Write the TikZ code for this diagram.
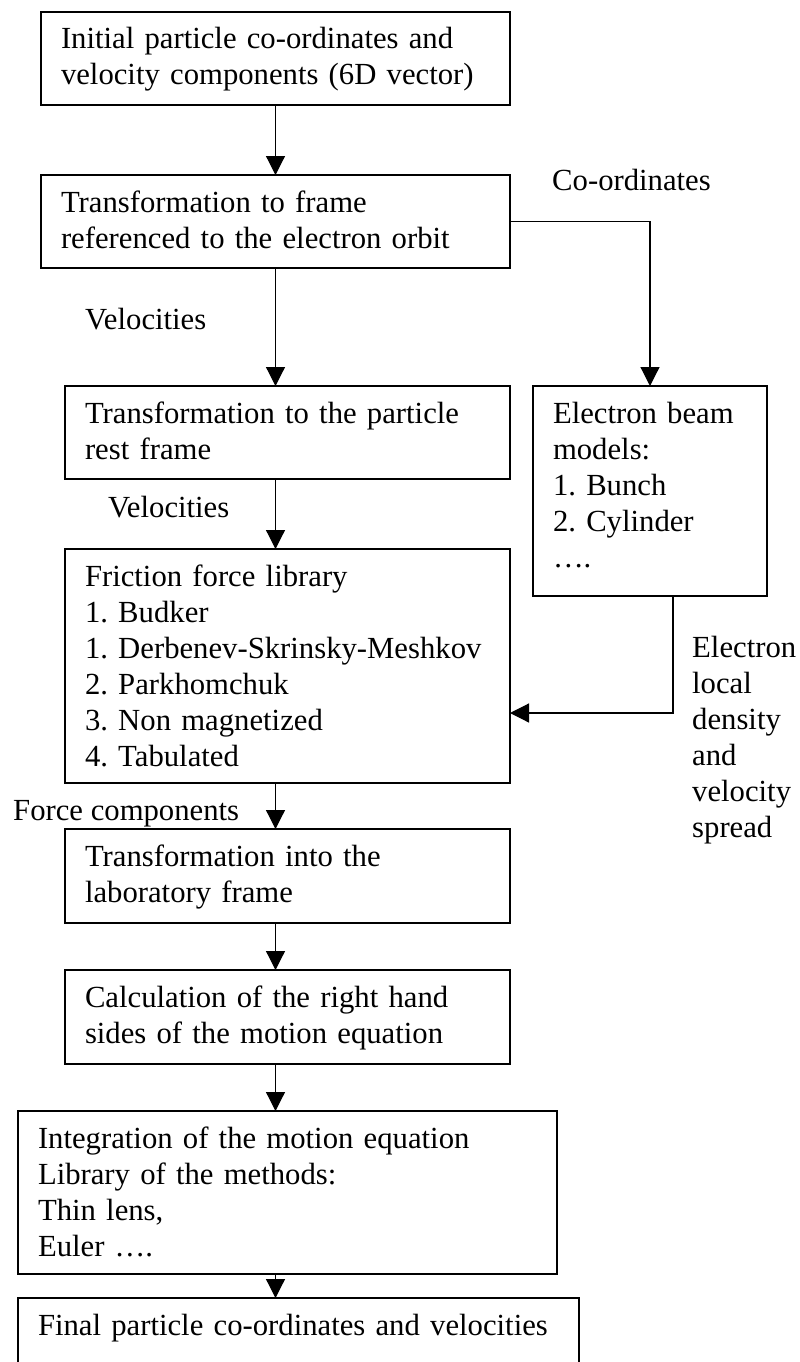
\documentclass[tikz,border=0pt]{standalone}
\usepackage{fontspec}
\setmainfont{Liberation Serif}
\usetikzlibrary{arrows.meta}
\frenchspacing
\hyphenpenalty=10000
\exhyphenpenalty=10000
\tikzset{
  box/.style={draw, line width=1.2pt, anchor=north west, align=left,
    inner xsep=20pt, inner ysep=0pt, outer sep=0pt, text height=37pt,
    font=\fontsize{30.7}{36}\selectfont},
  lbl/.style={anchor=base west, align=left, inner sep=0pt,
    font=\fontsize{30.7}{36}\selectfont},
  arr/.style={line width=1.2pt, -{Triangle[length=19pt,width=19pt]}},
  ln/.style={line width=1.2pt}
}
\begin{document}
\frenchspacing
\begin{tikzpicture}[x=1pt,y=-1pt]
\clip (0,0) rectangle (800,1362);
\fill[white] (0,0) rectangle (800,1362);
\node[box, text width=429pt, text depth=56pt] (b1) at (41,12)
  {Initial particle co-ordinates and\\velocity components (6D vector)};
\node[box, text width=429pt, text depth=56pt] (b2) at (41,175)
  {Transformation to frame\\referenced to the electron orbit};
\node[box, text width=405pt, text depth=56pt] (b3) at (65,386)
  {Transformation to the particle\\rest frame};
\node[box, text width=194pt, text depth=173pt] (b4) at (533,386)
  {Electron beam\\models:\\1. Bunch\\2. Cylinder\\….};
\node[box, text width=405pt, text depth=197pt] (b5) at (65,549)
  {Friction force library\\1. Budker\\1. Derbenev-Skrinsky-Meshkov\\2. Parkhomchuk\\3. Non magnetized\\4. Tabulated};
\node[box, text width=405pt, text depth=57pt] (b6) at (65,829)
  {Transformation into the\\laboratory frame};
\node[box, text width=405pt, text depth=57pt] (b7) at (65,970)
  {Calculation of the right hand\\sides of the motion equation};
\node[box, text width=499pt, text depth=126pt] (b8) at (18,1111)
  {Integration of the motion equation\\Library of the methods:\\Thin lens,\\Euler ….};
\node[box, text width=521pt, text depth=80pt] (b9) at (18,1298)
  {Final particle co-ordinates and velocities};

\node[lbl] (lco) at (552,190) {Co-ordinates};
\node[lbl] (lv1) at (85,329) {Velocities};
\node[lbl] (lv2) at (108,517) {Velocities};
\node[lbl] (lfc) at (13,820) {Force components};
\node[lbl, text width=110pt] (lel) at (692,657)
  {Electron\\local\\density\\and\\velocity\\spread};

\draw[arr] (b1.south) -- (b2.north);
\draw[arr] (b2.south) -- (b2.south |- b3.north);
\draw[arr] (b2.east) -| (b4.north);
\draw[arr] (b3.south -| b2.south) -- (b2.south |- b5.north);
\draw[arr] ([xshift=23pt]b4.south) |- ([yshift=-47pt]b5.east);
\draw[arr] (b5.south -| b2.south) -- (b2.south |- b6.north);
\draw[arr] (b6.south -| b2.south) -- (b2.south |- b7.north);
\draw[arr] (b7.south -| b2.south) -- (b2.south |- b8.north);
\draw[arr] (b8.south -| b2.south) -- (b2.south |- b9.north);
\end{tikzpicture}
\end{document}
